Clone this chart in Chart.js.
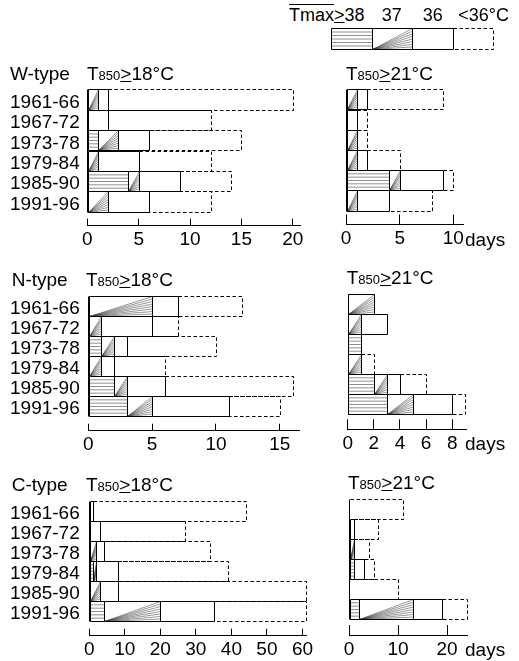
<!DOCTYPE html>
<html>
<head>
<meta charset="utf-8">
<script src="https://cdn.jsdelivr.net/npm/chart.js@4"></script>
<style>
  body { margin: 0; background: #fff; }
  #fig { position: relative; width: 519px; height: 661px; overflow: hidden;
         font-family: "Liberation Sans", Arial, sans-serif; color: #000; }
  #fig canvas { position: absolute; }
  .txt { position: absolute; font-size: 19px; line-height: 19px; white-space: nowrap; }
  .txt small { font-size: 13px; }
  .txt u { text-decoration: underline; text-decoration-thickness: 1px; text-underline-offset: 1px; }
  .key { font-size: 18px; line-height: 18px; }
  .over { text-decoration: overline; text-decoration-thickness: 1px; }
</style>
</head>
<body>
<div id="fig"></div>
<script>
const periods = ['1961-66', '1967-72', '1973-78', '1979-84', '1985-90', '1991-96'];
const types = ['W-type', 'N-type', 'C-type'];
const thresholds = ['18', '21'];
const keyLabels = ['38', '37', '36', '<36°C'];

// days in each Tmax class: >=38, 37, 36, <36 °C
// W-type, T850 >= 18 / 21
const w18Hot38 = [0, 0, 1, 0, 4, 0];
const w18Hot37 = [1, 0, 2, 1, 1, 2];
const w18Hot36 = [1, 2, 3, 4, 4, 4];
const w18Below = [18, 10, 9, 7, 5, 6];
const w21Hot38 = [0, 0, 0, 0, 4, 0];
const w21Hot37 = [1, 0, 1, 1, 1, 1];
const w21Hot36 = [1, 1, 0, 1, 4, 3];
const w21Below = [7, 1, 1, 3, 1, 4];
// N-type
const n18Hot38 = [0, 0, 1, 0, 2, 3];
const n18Hot37 = [5, 1, 1, 1, 1, 2];
const n18Hot36 = [2, 4, 1, 1, 3, 6];
const n18Below = [5, 2, 7, 4, 10, 4];
const n21Hot38 = [0, 0, 1, 0, 2, 3];
const n21Hot37 = [2, 1, 0, 1, 1, 2];
const n21Hot36 = [0, 2, 0, 0, 1, 3];
const n21Below = [0, 0, 0, 1, 2, 1];
// C-type
const c18Hot38 = [0, 0, 0, 1, 0, 4];
const c18Hot37 = [0, 0, 2, 1, 3, 16];
const c18Hot36 = [1, 3, 2, 6, 5, 15];
const c18Below = [43, 24, 30, 31, 53, 26];
const c21Hot38 = [0, 0, 0, 1, 0, 2];
const c21Hot37 = [0, 0, 1, 0, 0, 11];
const c21Hot36 = [0, 1, 0, 2, 0, 6];
const c21Below = [11, 5, 3, 2, 10, 5];

// fill style of each class, same order as the arrays above
const kinds = ['hatch', 'fan', 'plain', 'dashed'];

const panels = [
  { sets: [w18Hot38, w18Hot37, w18Hot36, w18Below], step: 5, max: 20.7, names: true,
    box: { left: 87.3, right: 300, top: 89.3, bottom: 211.7, axis: 225.7 } },
  { sets: [w21Hot38, w21Hot37, w21Hot36, w21Below], step: 5, max: 10.9, names: false,
    box: { left: 346, right: 463, top: 89.3, bottom: 210.5, axis: 224.5 } },
  { sets: [n18Hot38, n18Hot37, n18Hot36, n18Below], step: 5, max: 16.5, names: true,
    box: { left: 88.3, right: 299, top: 296, bottom: 415.7, axis: 430.7 } },
  { sets: [n21Hot38, n21Hot37, n21Hot36, n21Below], step: 2, max: 9.05, names: false,
    box: { left: 347.7, right: 466, top: 294.3, bottom: 414.3, axis: 429.3 } },
  { sets: [c18Hot38, c18Hot37, c18Hot36, c18Below], step: 10, max: 61, names: true,
    box: { left: 89.3, right: 306, top: 501, bottom: 620.7, axis: 635.7 } },
  { sets: [c21Hot38, c21Hot37, c21Hot36, c21Below], step: 10, max: 24.2, names: false,
    box: { left: 349, right: 467.6, top: 499.3, bottom: 619.3, axis: 635 } }
];

const fig = document.getElementById('fig');
const axisFont = { family: '"Liberation Sans", Arial, sans-serif', size: 19, lineHeight: 1.2 };

function snap(v) {
  return Math.round(v) + 0.5;
}

// one segment of a bar: inner marks first, then its outline
function drawCell(ctx, kind, l, t, r, b) {
  if (r - l < 0.5) return;
  l = snap(l); r = snap(r); t = snap(t); b = snap(b);
  ctx.save();
  if (kind === 'hatch') {
    ctx.strokeStyle = '#444';
    ctx.lineWidth = 0.6;
    ctx.beginPath();
    for (let k = 1; k < 6; k++) {
      const y = t + (b - t) * k / 6;
      ctx.moveTo(l, y);
      ctx.lineTo(r, y);
    }
    ctx.stroke();
  } else if (kind === 'fan') {
    ctx.strokeStyle = '#333';
    ctx.lineWidth = 0.5;
    ctx.beginPath();
    for (let k = 0; k < 8; k++) {
      ctx.moveTo(l, b);
      ctx.lineTo(r, t + (b - t) * k / 8);
    }
    ctx.stroke();
  }
  ctx.strokeStyle = '#000';
  ctx.lineWidth = 1;
  ctx.beginPath();
  if (kind === 'dashed') {
    ctx.setLineDash([3.5, 2.5]);
    ctx.moveTo(l, t);
    ctx.lineTo(r, t);
    ctx.lineTo(r, b);
    ctx.lineTo(l, b);
  } else {
    ctx.rect(l, t, r - l, b - t);
  }
  ctx.stroke();
  ctx.restore();
}

const barMarks = {
  id: 'barMarks',
  afterDatasetsDraw(chart) {
    const ctx = chart.ctx;
    chart.data.datasets.forEach((ds, di) => {
      chart.getDatasetMeta(di).data.forEach(bar => {
        const half = bar.height / 2;
        drawCell(ctx, ds.kind, Math.min(bar.base, bar.x), bar.y - half,
                 Math.max(bar.base, bar.x), bar.y + half);
      });
    });
    // shared left edge of all bars
    const xs = chart.scales.x, ys = chart.scales.y;
    const x0 = snap(xs.getPixelForValue(0));
    ctx.save();
    ctx.strokeStyle = '#000';
    ctx.lineWidth = 1;
    ctx.beginPath();
    ctx.moveTo(x0, snap(ys.getPixelForValue(-0.5)));
    ctx.lineTo(x0, snap(ys.getPixelForValue(periods.length - 0.5)));
    ctx.stroke();
    ctx.restore();
  }
};

function addText(html, left, top, cls) {
  const d = document.createElement('div');
  d.className = 'txt' + (cls ? ' ' + cls : '');
  d.innerHTML = html;
  d.style.left = left + 'px';
  d.style.top = top + 'px';
  fig.appendChild(d);
}

function buildPanel(p) {
  const b = p.box;
  const row = (b.bottom - b.top) / periods.length;
  const yMax = periods.length - 0.5 + (b.axis - b.bottom) / row;
  // wide side margins so the tick labels never push the plot area inwards
  const cLeft = p.names ? 0 : Math.floor(b.left - 26);
  const cTop = Math.floor(b.top - 14);
  const cW = Math.ceil(b.right + 30 - cLeft);
  const cH = Math.ceil(b.axis + 32 - cTop);
  // ticks point up from the axis line; longer on the right-hand panels
  const tickUp = p.names ? 7 : 10;

  const canvas = document.createElement('canvas');
  canvas.width = cW;
  canvas.height = cH;
  canvas.style.left = cLeft + 'px';
  canvas.style.top = cTop + 'px';
  fig.appendChild(canvas);

  new Chart(canvas, {
    type: 'bar',
    data: {
      datasets: p.sets.map((vals, k) => ({
        kind: kinds[k],
        data: vals.map((v, i) => ({ x: v, y: i })),
        backgroundColor: '#fff',
        borderWidth: 0,
        categoryPercentage: 1,
        barPercentage: 1
      }))
    },
    options: {
      indexAxis: 'y',
      responsive: false,
      animation: false,
      events: [],
      layout: {
        padding: {
          left: p.names ? 10 : b.left - cLeft,
          top: b.top - cTop,
          right: cW - (b.right - cLeft),
          bottom: cH - (b.axis - cTop) - 30
        }
      },
      plugins: { legend: { display: false }, tooltip: { enabled: false } },
      scales: {
        x: {
          type: 'linear', stacked: true, min: 0, max: p.max,
          border: { display: true, color: '#000', width: 1 },
          grid: { drawOnChartArea: false, drawTicks: true, tickLength: -tickUp, color: '#000', lineWidth: 1 },
          ticks: { stepSize: p.step, includeBounds: false, autoSkip: false, maxRotation: 0, minRotation: 0,
                   color: '#000', font: axisFont, padding: tickUp + 3 },
          afterFit: s => { s.height = 30; }
        },
        y: {
          type: 'linear', stacked: true, reverse: true, offset: false, min: -0.5, max: yMax,
          border: { display: false },
          grid: { display: false, offset: false },
          afterBuildTicks: s => { s.ticks = periods.map((_, i) => ({ value: i })); },
          ticks: { display: p.names, autoSkip: false, color: '#000', font: axisFont, padding: 0,
                   crossAlign: 'far', labelOffset: 3, callback: v => periods[v] },
          afterFit: s => { s.width = p.names ? b.left - 10 : 0; }
        }
      }
    },
    plugins: [barMarks]
  });

  if (!p.names) addText('days', 465, b.axis + 5);
}

panels.forEach(buildPanel);

// titles of each row
const titleTops = [[64, 63.5], [269.7, 268], [475, 472.5]];
const titleLefts = [[87, 346], [86, 346.7], [86, 348]];
types.forEach((t, r) => {
  addText(t, r === 0 ? 10 : 11.7, titleTops[r][0]);
  thresholds.forEach((th, c) => {
    addText('T<small>850</small><u>&gt;</u>' + th + '°C', titleLefts[r][c], titleTops[r][c]);
  });
});

// key: Tmax classes
addText('<span class="over">Tmax</span><u>&gt;</u>' + keyLabels[0], 289, 6, 'key');
addText(keyLabels[1], 381.7, 6, 'key');
addText(keyLabels[2], 422.7, 6, 'key');
addText(keyLabels[3].replace('<', '&lt;'), 458.3, 6, 'key');

const keyCanvas = document.createElement('canvas');
keyCanvas.width = 166;
keyCanvas.height = 25;
keyCanvas.style.left = '329px';
keyCanvas.style.top = '26px';
fig.appendChild(keyCanvas);
const kctx = keyCanvas.getContext('2d');
const cellW = 162 / kinds.length;
kinds.forEach((k, i) => drawCell(kctx, k, 2 + i * cellW, 2, 2 + (i + 1) * cellW, 23));
</script>
</body>
</html>
